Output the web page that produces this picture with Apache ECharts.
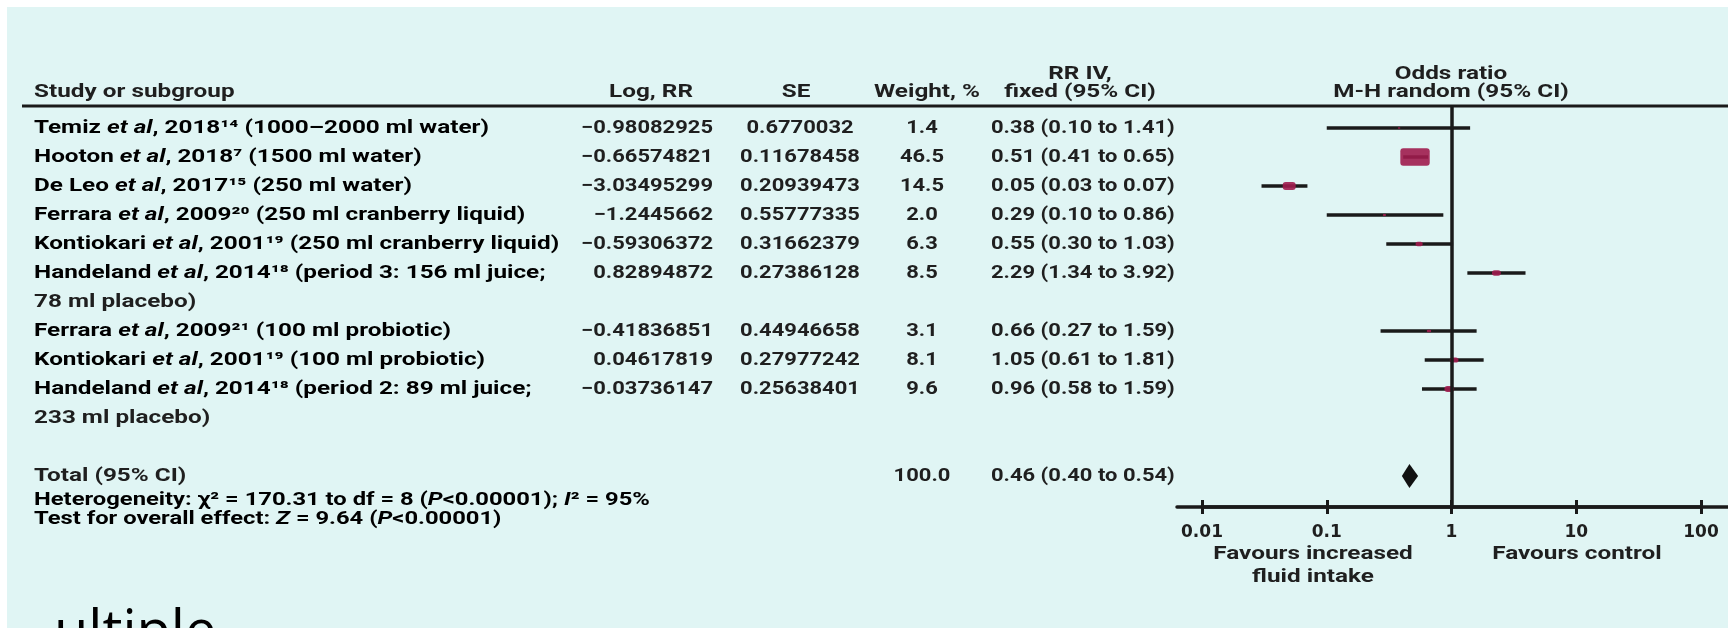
<!DOCTYPE html>
<html><head><meta charset="utf-8">
<script src="https://cdn.jsdelivr.net/npm/echarts@6/dist/echarts.min.js"></script>
<style>html,body{margin:0;padding:0;background:#fff}#c{width:1728px;height:628px}</style>
</head><body><div id="c"></div><script>
// ---------------- data ----------------
const studyAuthor = ['Temiz','Hooton','De Leo','Ferrara','Kontiokari','Handeland','Ferrara','Kontiokari','Handeland'];
const studyYear = ['2018¹⁴','2018⁷','2017¹⁵','2009²⁰','2001¹⁹','2014¹⁸','2009²¹','2001¹⁹','2014¹⁸'];
const studyDetail = ['(1000–2000 ml water)','(1500 ml water)','(250 ml water)','(250 ml cranberry liquid)','(250 ml cranberry liquid)','(period 3: 156 ml juice;\n78 ml placebo)','(100 ml probiotic)','(100 ml probiotic)','(period 2: 89 ml juice;\n233 ml placebo)'];
const logRR = ['−0.98082925','−0.66574821','−3.03495299','−1.2445662','−0.59306372','0.82894872','−0.41836851','0.04617819','−0.03736147'];
const seVal = ['0.6770032','0.11678458','0.20939473','0.55777335','0.31662379','0.27386128','0.44946658','0.27977242','0.25638401'];
const weight = [1.4, 46.5, 14.5, 2.0, 6.3, 8.5, 3.1, 8.1, 9.6];
const rr = [0.38, 0.51, 0.05, 0.29, 0.55, 2.29, 0.66, 1.05, 0.96];
const rrLow = [0.10, 0.41, 0.03, 0.10, 0.30, 1.34, 0.27, 0.61, 0.58];
const rrHigh = [1.41, 0.65, 0.07, 0.86, 1.03, 3.92, 1.59, 1.81, 1.59];
const totalLabel = 'Total (95% CI)';
const totalWeight = 100.0;
const totalRR = 0.46, totalLow = 0.40, totalHigh = 0.54;
const xTicks = [0.01, 0.1, 1, 10, 100];
const headers = {study:'Study or subgroup', logrr:'Log, RR', se:'SE', weight:'Weight, %', rr1:'RR IV,', rr2:'fixed (95% CI)', or1:'Odds ratio', or2:'M-H random (95% CI)'};
const favLeft = 'Favours increased\nfluid intake';
const favRight = 'Favours control';
const bottomWord = 'ultiple';

// ---------------- layout ----------------
const FONT = 'Roboto, "Open Sans", sans-serif';
const TXT = '#1f1f1f';
const BG = '#e0f5f4';
const INK = '#1a1a1a';
const ROW0_Y = 128, ROW_H = 29, PLOT_TOP = 106, AXIS_Y = 507;
const yMin = (PLOT_TOP - ROW0_Y) / ROW_H, yMax = (AXIS_Y - ROW0_Y) / ROW_H;

const slots = []; let s = 0;
studyDetail.forEach(d => { slots.push(s); s += d.split('\n').length; });
const totalSlot = s + 1;

const fmt2 = v => v.toFixed(2);
const ciText = (e, l, h) => `${fmt2(e)} (${fmt2(l)} to ${fmt2(h)})`;

const chart = echarts.init(document.getElementById('c'));
const axisLineStyle = {color:INK, width:3.5};
const option = {
  backgroundColor:'#ffffff',
  animation:false,
  grid:[
    {left:1202, width:499, top:PLOT_TOP, height:AXIS_Y-PLOT_TOP},
    {left:1202, width:499, top:AXIS_Y, height:20},
    {left:1177, right:0, top:AXIS_Y-20, height:20}
  ],
  xAxis:[
    {gridIndex:0, type:'log', logBase:10, min:xTicks[0], max:xTicks[xTicks.length-1], position:'bottom',
     axisLine:{show:true, onZero:false, lineStyle:axisLineStyle},
     axisTick:{show:true, inside:true, length:7, lineStyle:{color:INK, width:3}},
     axisLabel:{show:true, margin:17, color:TXT, fontSize:17, fontWeight:'bold', fontFamily:'"DejaVu Sans", sans-serif', formatter:v => String(v)},
     splitLine:{show:false}},
    {gridIndex:1, type:'log', logBase:10, min:xTicks[0], max:xTicks[xTicks.length-1], position:'top',
     axisLine:{show:false, onZero:false}, axisTick:{show:true, inside:true, length:7, lineStyle:{color:INK, width:3}},
     axisLabel:{show:false}, splitLine:{show:false}},
    {gridIndex:2, type:'value', min:0, max:1, position:'bottom',
     axisLine:{show:true, onZero:false, lineStyle:axisLineStyle}, axisTick:{show:false}, axisLabel:{show:false}, splitLine:{show:false}}
  ],
  yAxis:[
    {gridIndex:0, type:'value', inverse:true, min:yMin, max:yMax, show:false},
    {gridIndex:1, type:'value', min:0, max:1, show:false},
    {gridIndex:2, type:'value', min:0, max:1, show:false}
  ],
  series:[
    {
      type:'line', xAxisIndex:0, yAxisIndex:0, data:[], silent:true, z:3,
      markLine:{silent:true, symbol:['none','none'], label:{show:false},
        lineStyle:{color:INK, width:3.5, type:'solid'}, data:[{xAxis:1}]}
    },
    {
      type:'custom', xAxisIndex:0, yAxisIndex:0, z:4, clip:false,
      data: rr.map((v, i) => [rrLow[i], rrHigh[i], v, slots[i], weight[i]]),
      encode:{x:[0,1,2], y:3},
      renderItem(params, api){
        const y = api.value(3);
        const p1 = api.coord([api.value(0), y]);
        const p2 = api.coord([api.value(1), y]);
        const pc = api.coord([api.value(2), y]);
        const w = Math.pow(api.value(4), 0.7);
        const sw = 2.0 * w, sh = 1.2 * w;
        return {type:'group', children:[
          {type:'line', shape:{x1:p1[0], y1:p1[1], x2:p2[0], y2:p2[1]}, style:{stroke:INK, lineWidth:3.5}},
          {type:'rect', shape:{x:pc[0]-sw/2, y:pc[1]-sh/2, width:sw, height:sh, r:3}, style:{fill:'#a01c4e', opacity:0.9}}
        ]};
      }
    },
    {
      type:'custom', xAxisIndex:0, yAxisIndex:0, z:4, clip:false,
      data:[[totalLow, totalHigh, totalRR, totalSlot]],
      encode:{x:[0,1,2], y:3},
      renderItem(params, api){
        const y = api.value(3);
        const pl = api.coord([api.value(0), y]);
        const ph = api.coord([api.value(1), y]);
        const pc = api.coord([api.value(2), y]);
        const h = 12;
        return {type:'polygon', shape:{points:[[pl[0], pl[1]], [pc[0], pc[1]-h], [ph[0], ph[1]], [pc[0], pc[1]+h]]}, style:{fill:'#111'}};
      }
    }
  ]
};
chart.setOption(option);

// ---------- table text (rows positioned through the y axis) ----------
const yPix = v => chart.convertToPixel({yAxisIndex:0}, v);
const FS = 18;
const baseStyle = {fontFamily:FONT, fontSize:FS, fontWeight:'bold', fill:TXT};
const rich = {
  n:{fontFamily:FONT, fontSize:FS, fontWeight:'bold', color:TXT},
  i:{fontFamily:FONT, fontSize:FS, fontWeight:'bold', fontStyle:'italic', color:TXT}
};
const WIDE = 1.35;   // horizontal stretch of word text
const NUM = 1.22;    // horizontal stretch of numeric text
const LX = 34;
const g = [];
g.push({type:'rect', z:-10, silent:true, shape:{x:7, y:7, width:1721, height:621}, style:{fill:BG}});
function txt(text, x, y, align, sx, extra){
  g.push({type:'text', z:10, silent:true, x, y, scaleX:sx||1, style:Object.assign({}, baseStyle, {text, textAlign:align, textVerticalAlign:'middle'}, extra||{})});
}
function richTxt(text, x, y, sx){
  g.push({type:'text', z:10, silent:true, x, y, scaleX:sx||1, style:{text, rich, textAlign:'left', textVerticalAlign:'middle'}});
}
// headers
const H1 = 74, H2 = 92;
txt(headers.study, LX, H2, 'left', WIDE);
txt(headers.logrr, 651, H2, 'center', WIDE);
txt(headers.se, 796, H2, 'center', WIDE);
txt(headers.weight, 927, H2, 'center', WIDE);
txt(headers.rr1, 1080, H1, 'center', WIDE);
txt(headers.rr2, 1080, H2, 'center', WIDE);
txt(headers.or1, 1451, H1, 'center', WIDE);
txt(headers.or2, 1451, H2, 'center', WIDE);
g.push({type:'line', z:5, silent:true, shape:{x1:22, y1:PLOT_TOP, x2:1728, y2:PLOT_TOP}, style:{stroke:INK, lineWidth:3}});

// study rows
studyAuthor.forEach((a, i) => {
  const lines = studyDetail[i].split('\n');
  const y = yPix(slots[i]);
  richTxt(`{n|${a} }{i|et al}{n|, ${studyYear[i]} ${lines[0]}}`, LX, y, WIDE);
  for (let k = 1; k < lines.length; k++) txt(lines[k], LX, yPix(slots[i] + k), 'left', WIDE);
  txt(logRR[i], 713, y, 'right', NUM);
  txt(seVal[i], 800, y, 'center', NUM);
  txt(weight[i].toFixed(1), 922, y, 'center', NUM);
  txt(ciText(rr[i], rrLow[i], rrHigh[i]), 991, y, 'left', NUM);
});
// total
const yt = yPix(totalSlot);
txt(totalLabel, LX, yt, 'left', WIDE);
txt(totalWeight.toFixed(1), 922, yt, 'center', NUM);
txt(ciText(totalRR, totalLow, totalHigh), 991, yt, 'left', NUM);
richTxt('{n|Heterogeneity: χ² = 170.31 to df = 8 (}{i|P}{n|<0.00001); }{i|I}{n|² = 95%}', LX, 500, 1.32);
richTxt('{n|Test for overall effect: }{i|Z}{n| = 9.64 (}{i|P}{n|<0.00001)}', LX, 519, 1.32);
// favours labels
g.push({type:'text', z:10, silent:true, x:1313, y:543, scaleX:WIDE, style:Object.assign({}, baseStyle, {text:favLeft, textAlign:'center', textVerticalAlign:'top', lineHeight:23})});
g.push({type:'text', z:10, silent:true, x:1577, y:543, scaleX:WIDE, style:Object.assign({}, baseStyle, {text:favRight, textAlign:'center', textVerticalAlign:'top', lineHeight:23})});
// cut-off word at bottom
g.push({type:'text', z:10, silent:true, x:54, y:662, style:{text:bottomWord, fontFamily:'"Open Sans", sans-serif', fontSize:56, fontWeight:400, fill:'#000', textAlign:'left', textVerticalAlign:'bottom'}});

chart.setOption({graphic:{elements:g}});
</script></body></html>
